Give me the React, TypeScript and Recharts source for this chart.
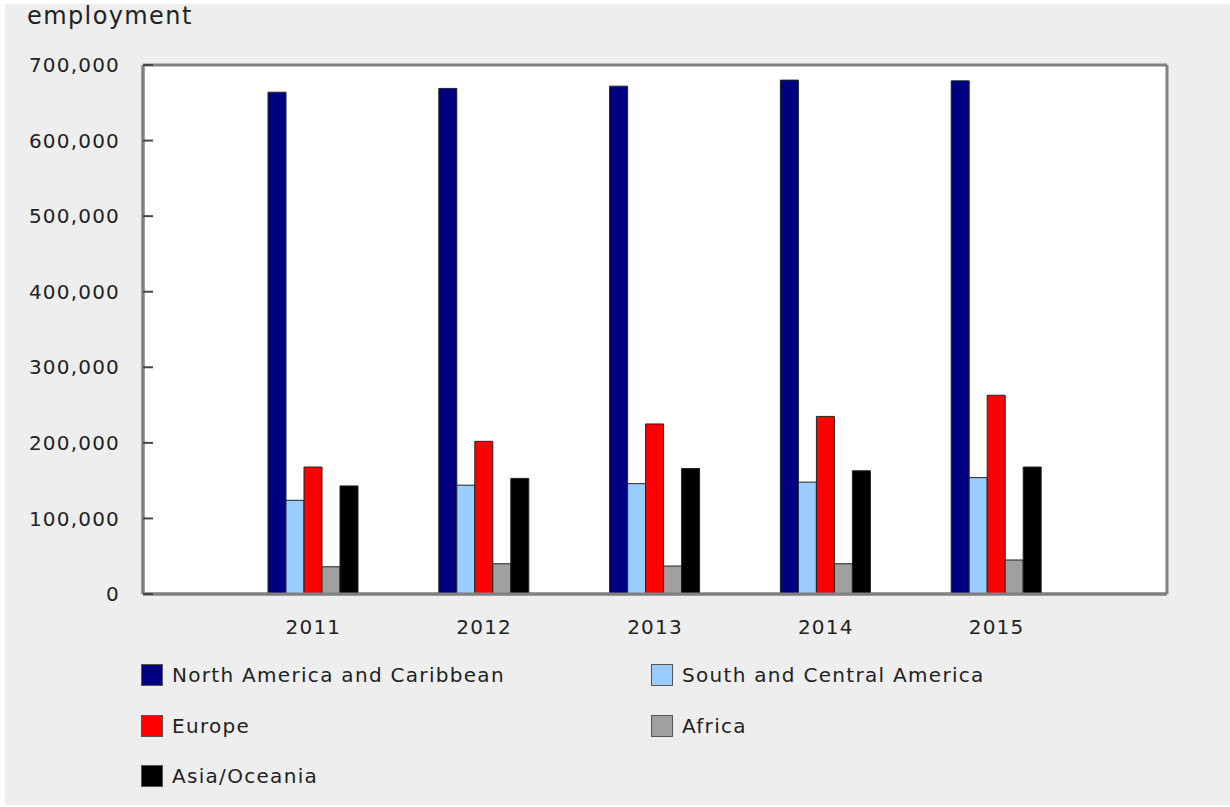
import React from "react";
import { BarChart, Bar, XAxis, YAxis, CartesianGrid, Legend } from "recharts";

const years = ["2011", "2012", "2013", "2014", "2015"];
const northAmerica = [664000, 669000, 672000, 680000, 679000];
const southCentralAmerica = [124000, 144000, 146000, 148000, 154000];
const europe = [168000, 202000, 225000, 235000, 263000];
const africa = [36000, 40000, 37000, 40000, 45000];
const asiaOceania = [143000, 153000, 166000, 163000, 168000];
const yTicks = [0, 100000, 200000, 300000, 400000, 500000, 600000, 700000];

const series = [
  { key: "na", name: "North America and Caribbean", color: "#000080", values: northAmerica },
  { key: "sca", name: "South and Central America", color: "#99ccff", values: southCentralAmerica },
  { key: "eu", name: "Europe", color: "#ff0000", values: europe },
  { key: "af", name: "Africa", color: "#a0a0a0", values: africa },
  { key: "as", name: "Asia/Oceania", color: "#000000", values: asiaOceania },
];

const data = years.map((year, i) => {
  const row: Record<string, string | number> = { year };
  series.forEach((s) => {
    row[s.key] = s.values[i];
  });
  return row;
});

const textColor = "#222";
const fontFamily = "'DejaVu Sans', Verdana, sans-serif";

// two-column legend, rows filled left to right
const LegendGrid = () => (
  <div
    style={{
      display: "grid",
      gridTemplateColumns: "510px 500px",
      gridAutoRows: "50.5px",
      paddingLeft: 136,
      fontFamily,
      fontSize: 20,
      letterSpacing: 1.3,
      color: textColor,
    }}
  >
    {series.map((s) => (
      <div key={s.key} style={{ display: "flex", alignItems: "center" }}>
        <span
          style={{
            display: "inline-block",
            width: 20,
            height: 20,
            background: s.color,
            border: "1.5px solid #555",
            marginRight: 9,
          }}
        />
        <span>{s.name}</span>
      </div>
    ))}
  </div>
);

export default function App() {
  return (
    <div
      style={{
        position: "absolute",
        left: 5,
        top: 4,
        width: 1225,
        height: 801,
        background: "#eeeeee",
        fontFamily,
      }}
    >
      <div
        style={{
          position: "absolute",
          left: 22,
          top: 0,
          fontSize: 24,
          lineHeight: "24px",
          letterSpacing: 1.4,
          color: textColor,
          zIndex: 2,
        }}
      >
        employment
      </div>
      <BarChart
        width={1225}
        height={801}
        data={data}
        margin={{ top: 61, right: 63, bottom: 171, left: 0 }}
        barGap={0}
        barSize={18}
      >
        <CartesianGrid
          fill="#ffffff"
          stroke="#808080"
          strokeWidth={3}
          horizontalCoordinatesGenerator={({ offset }: any) => [offset.top, offset.top + offset.height]}
          verticalCoordinatesGenerator={({ offset }: any) => [offset.left, offset.left + offset.width]}
        />
        <XAxis
          dataKey="year"
          height={40}
          padding={{ left: 85, right: 85 }}
          tickLine={false}
          tickSize={6}
          tickMargin={20}
          axisLine={{ stroke: "#808080", strokeWidth: 3 }}
          tick={{ fontSize: 20, fill: textColor, letterSpacing: 1.2 }}
        />
        <YAxis
          width={138}
          domain={[0, 700000]}
          ticks={yTicks}
          interval={0}
          tickSize={-10}
          tickMargin={33}
          tickLine={{ stroke: "#444", strokeWidth: 2 }}
          axisLine={{ stroke: "#808080", strokeWidth: 3 }}
          tickFormatter={(v: number) => v.toLocaleString("en-US")}
          tick={{ fontSize: 20, fill: textColor, letterSpacing: 1.2 }}
        />
        <Legend
          layout="vertical"
          align="center"
          verticalAlign="middle"
          wrapperStyle={{ left: 0, top: 646, width: 1225 }}
          content={() => <LegendGrid />}
        />
        {series.map((s) => (
          <Bar
            key={s.key}
            dataKey={s.key}
            name={s.name}
            fill={s.color}
            stroke="#222"
            strokeWidth={1}
            isAnimationActive={false}
          />
        ))}
      </BarChart>
    </div>
  );
}
